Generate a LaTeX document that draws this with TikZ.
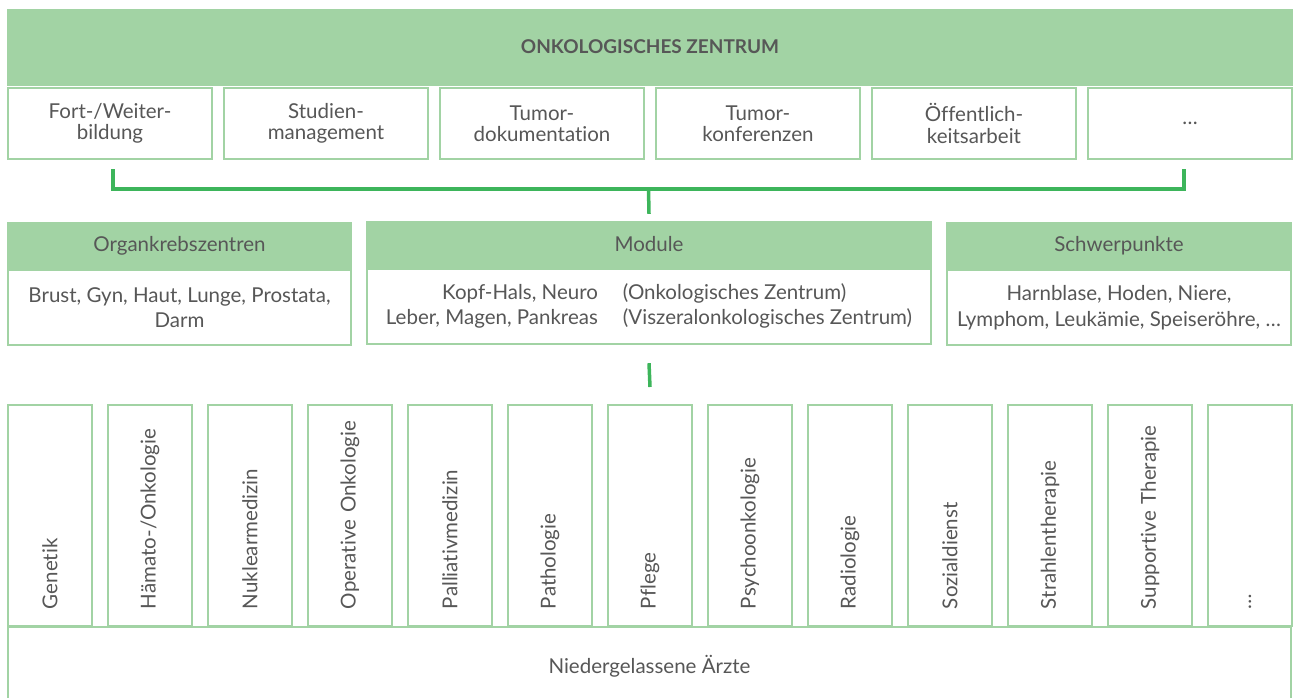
\documentclass[tikz,border=0pt]{standalone}
\usepackage{fontspec}
\setmainfont{Lato}[Ligatures=NoCommon]
\usetikzlibrary{positioning}
\definecolor{lightgreen}{RGB}{162,211,164}
\definecolor{darkgreen}{RGB}{61,181,91}
\definecolor{textgray}{RGB}{87,87,87}

\begin{document}
\begin{tikzpicture}[x=1pt,y=-1pt,
every node/.style={
  text=textgray,
  font=\fontsize{20.5}{21.5}\selectfont
  },
headbox/.style={
  fill=lightgreen,
  draw=none,
  inner sep=0,
  align=center
  },
box/.style={
  draw=lightgreen,
  line width=2pt,
  fill=white,
  inner sep=0,
  align=center
  },
colbox/.style={box,
  rotate=90,
  minimum width=221pt,
  minimum height=84pt,
  text width=187pt,
  inner xsep=17pt,
  inner ysep=0pt,
  align=left
  },
bracket/.style={
  draw=darkgreen,
  line width=3.5pt
  }]
\useasboundingbox (0,0) rectangle (1293,697);

% top level
\node[headbox, minimum width=1286pt, minimum height=77pt, font=\fontsize{19}{20}\selectfont\bfseries]
  (zentrum) at (650,47) {ONKOLOGISCHES ZENTRUM};

\foreach \txt [count=\i] in {{Fort-/Weiter-\\bildung},{Studien-\\management},{Tumor-\\dokumentation},
                             {Tumor-\\konferenzen},{Öffentlich-\\keitsarbeit},{…}}
  \node[box, minimum width=204pt, minimum height=71pt] (t-\i) at (110+216*\i-216,123.5) {\txt};

\coordinate (bar) at (648.5,189);
\draw[bracket] ([xshift=3pt,yshift=-9pt]t-1.south) |- (bar) -| ([xshift=-6pt,yshift=-9pt]t-6.south);

% middle level
\node[headbox, minimum width=345pt, minimum height=47pt] (organ) at (179.5,245.5) {Organkrebszentren};
\node[box, minimum width=343pt, minimum height=75pt, font=\fontsize{20.5}{25.5}\selectfont, below=0pt of organ]
  (organ-body) {Brust, Gyn, Haut, Lunge, Prostata,\\Darm};

\node[headbox, minimum width=566pt, minimum height=47pt] (module) at (649,244.5) {Module};
\node[box, minimum width=564pt, minimum height=75pt, below=0pt of module] (module-body)
  {\fontsize{20.5}{25.5}\selectfont
   \begin{tabular}{@{}r@{\hspace{25pt}}l@{}}
   Kopf-Hals, Neuro & (Onkologisches Zentrum)\\
   Leber, Magen, Pankreas & (Viszeralonkologisches Zentrum)
   \end{tabular}};

\node[headbox, minimum width=346pt, minimum height=47pt] (schwer) at (1119,245.5) {Schwerpunkte};
\node[box, minimum width=344pt, minimum height=75pt, font=\fontsize{20.5}{25.5}\selectfont, below=0pt of schwer]
  (schwer-body) {Harnblase, Hoden, Niere,\\Lymphom, Leukämie, Speiseröhre, …};

\draw[bracket] (bar) -- ([yshift=7pt]module.north);

% bottom level
\foreach \txt [count=\i] in {Genetik,Hämato-/Onkologie,Nuklearmedizin,Operative Onkologie,Palliativmedizin,
                             Pathologie,Pflege,Psychoonkologie,Radiologie,Sozialdienst,Strahlentherapie,
                             Supportive Therapie,…}
  \node[colbox] (c-\i) at (50+100*\i-100,515.5) {\mbox{\txt}};

\draw[bracket] ([yshift=-18pt]module-body.south) -- ([yshift=17pt]c-7.east);

\node[box, minimum width=1283pt, minimum height=78pt] (aerzte) at (649.5,666) {Niedergelassene Ärzte};

\end{tikzpicture}
\end{document}
